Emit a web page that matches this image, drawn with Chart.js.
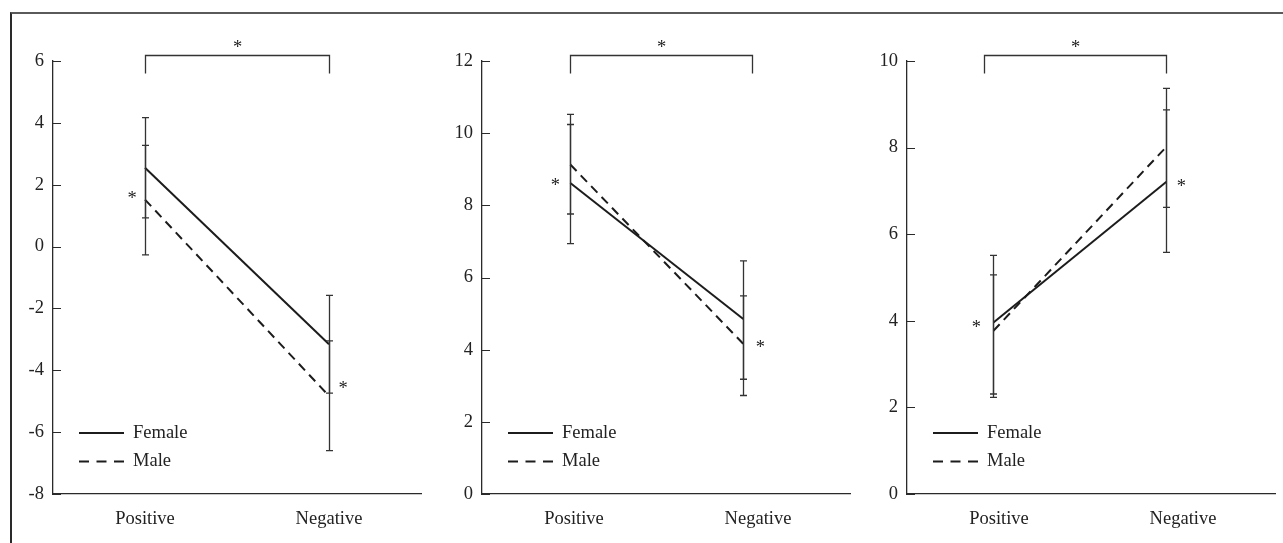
<!DOCTYPE html>
<html><head><meta charset="utf-8">
<script src="https://cdn.jsdelivr.net/npm/chart.js@4.4.0/dist/chart.umd.min.js"></script>
<style>
html,body{margin:0;padding:0;background:#fff;}
body{width:1283px;height:543px;position:relative;overflow:hidden;}
#frame{position:absolute;left:10px;top:12px;right:-5px;bottom:-5px;border-top:2px solid #5a5a5a;border-left:2px solid #2a2a2a;}
canvas{position:absolute;top:0;}
</style></head><body>
<div id="frame"></div>
<canvas id="c1" style="left:12px" width="419" height="543"></canvas>
<canvas id="c2" style="left:431px" width="430" height="543"></canvas>
<canvas id="c3" style="left:861px" width="422" height="543"></canvas>
<script>
// ---------- data ----------
const categories = ['Positive', 'Negative'];
const seriesNames = ['Female', 'Male'];

// Panel 1
const p1YRange = [-8, 6];
const p1X = [0, 1];
const p1Female = [2.55, -3.16];
const p1FemaleLow = [0.93, -4.74];
const p1FemaleHigh = [4.17, -1.58];
const p1Male = [1.52, -4.83];
const p1MaleLow = [-0.27, -6.60];
const p1MaleHigh = [3.27, -3.05];
const p1Bracket = [0, 1];
const p1StarY = [1.68, -4.45];

// Panel 2
const p2YRange = [0, 12];
const p2X = [-0.02, 0.92];
const p2Female = [8.62, 4.85];
const p2FemaleLow = [6.94, 3.18];
const p2FemaleHigh = [10.24, 6.46];
const p2Male = [9.13, 4.16];
const p2MaleLow = [7.76, 2.73];
const p2MaleHigh = [10.52, 5.49];
const p2Bracket = [-0.02, 0.97];
const p2StarY = [8.65, 4.16];

// Panel 3
const p3YRange = [0, 10];
const p3X = [-0.03, 0.91];
const p3Female = [3.96, 7.21];
const p3FemaleLow = [2.31, 5.58];
const p3FemaleHigh = [5.51, 8.87];
const p3Male = [3.77, 8.02];
const p3MaleLow = [2.23, 6.62];
const p3MaleHigh = [5.06, 9.37];
const p3Bracket = [-0.08, 0.91];
const p3StarY = [3.93, 7.2];

// ---------- style ----------
const FONT = "'Liberation Serif', 'Times New Roman', serif";
const FS = 18.5;
const INK = '#222';
const AXIS = '#2a2a2a';
Chart.defaults.font.family = FONT;
Chart.defaults.font.size = FS;
Chart.defaults.color = INK;

const decoPlugin = {
  id: 'deco',
  afterDraw(chart, args, o) {
    const ctx = chart.ctx, xs = chart.scales.x, ys = chart.scales.y, ca = chart.chartArea;
    ctx.save();
    // inward y ticks
    ctx.strokeStyle = AXIS; ctx.lineWidth = 1;
    ys.ticks.forEach(t => {
      const y = Math.round(ys.getPixelForValue(t.value)) + 0.5;
      ctx.beginPath(); ctx.moveTo(ca.left, y); ctx.lineTo(ca.left + 8, y); ctx.stroke();
    });
    // error bars
    ctx.strokeStyle = '#333'; ctx.lineWidth = 1.3;
    chart.data.datasets.forEach((ds, i) => {
      const meta = chart.getDatasetMeta(i);
      meta.data.forEach((pt, j) => {
        const x = Math.round(pt.x) + 0.5;
        const yl = ys.getPixelForValue(ds.errLow[j]);
        const yh = ys.getPixelForValue(ds.errHigh[j]);
        ctx.beginPath();
        ctx.moveTo(x, yl); ctx.lineTo(x, yh);
        ctx.moveTo(x - 3.5, yl); ctx.lineTo(x + 3.5, yl);
        ctx.moveTo(x - 3.5, yh); ctx.lineTo(x + 3.5, yh);
        ctx.stroke();
      });
    });
    // bracket
    const bx0 = Math.round(xs.getPixelForValue(o.bracket[0])) + 0.5;
    const bx1 = Math.round(xs.getPixelForValue(o.bracket[1])) + 0.5;
    const bTop = ca.top - 5.5, bLeg = ca.top + 12.5;
    ctx.strokeStyle = '#333'; ctx.lineWidth = 1.3;
    ctx.beginPath();
    ctx.moveTo(bx0, bLeg); ctx.lineTo(bx0, bTop); ctx.lineTo(bx1, bTop); ctx.lineTo(bx1, bLeg);
    ctx.stroke();
    // stars
    ctx.fillStyle = INK;
    ctx.font = FS + 'px ' + FONT;
    ctx.textAlign = 'center';
    ctx.textBaseline = 'alphabetic';
    const m = ctx.measureText('*');
    const starOff = (m.actualBoundingBoxAscent - m.actualBoundingBoxDescent) / 2;
    const drawStar = (x, y) => ctx.fillText('*', x, y + starOff);
    drawStar((bx0 + bx1) / 2, ca.top - 18);
    drawStar(xs.getPixelForValue(o.xpos[0]) - o.starDx[0], ys.getPixelForValue(o.starY[0]));
    drawStar(xs.getPixelForValue(o.xpos[1]) + o.starDx[1], ys.getPixelForValue(o.starY[1]));
    // legend
    ctx.textAlign = 'left'; ctx.textBaseline = 'middle';
    chart.data.datasets.forEach((ds, i) => {
      const y = ca.bottom - 61 + i * 28.5;
      ctx.strokeStyle = ds.borderColor; ctx.lineWidth = 2;
      ctx.setLineDash(ds.borderDash && ds.borderDash.length ? [10, 7.5] : []);
      ctx.beginPath(); ctx.moveTo(ca.left + 26, y); ctx.lineTo(ca.left + 71, y); ctx.stroke();
      ctx.setLineDash([]);
      ctx.fillText(ds.label, ca.left + 80, y);
    });
    ctx.restore();
  }
};

function makePanel(id, yRange, xpos, fem, femLo, femHi, mal, malLo, malHi, bracket, starY, yWidth, rightPad, starDx) {
  const pts = (vals) => vals.map((v, i) => ({x: xpos[i], y: v}));
  new Chart(document.getElementById(id), {
    type: 'line',
    data: {
      datasets: [
        {label: seriesNames[0], data: pts(fem), errLow: femLo, errHigh: femHi,
         borderColor: '#1c1c1c', borderWidth: 2, pointRadius: 0, tension: 0, borderDash: []},
        {label: seriesNames[1], data: pts(mal), errLow: malLo, errHigh: malHi,
         borderColor: '#1c1c1c', borderWidth: 2, pointRadius: 0, tension: 0, borderDash: [9, 6]}
      ]
    },
    options: {
      responsive: false,
      animation: false,
      layout: {padding: {top: 61, right: rightPad, bottom: 0, left: 0}},
      plugins: {
        legend: {display: false},
        tooltip: {enabled: false},
        deco: {bracket: bracket, starY: starY, xpos: xpos, starDx: starDx}
      },
      scales: {
        x: {
          type: 'linear', min: -0.5, max: 1.5,
          grid: {display: false, drawTicks: false},
          border: {display: true, color: AXIS, width: 1.3},
          afterBuildTicks: (s) => { s.ticks = categories.map((c, i) => ({value: i})); },
          ticks: {callback: (v) => categories[v], padding: 14, maxRotation: 0, autoSkip: false},
          afterFit: (s) => { s.height = 49; }
        },
        y: {
          min: yRange[0], max: yRange[1],
          grid: {display: false, drawTicks: false},
          border: {display: true, color: AXIS, width: 1.3},
          ticks: {stepSize: 2, padding: 9},
          afterFit: (s) => { s.width = yWidth; }
        }
      }
    },
    plugins: [decoPlugin]
  });
}

makePanel('c1', p1YRange, p1X, p1Female, p1FemaleLow, p1FemaleHigh, p1Male, p1MaleLow, p1MaleHigh, p1Bracket, p1StarY, 41, 10, [13, 14]);
makePanel('c2', p2YRange, p2X, p2Female, p2FemaleLow, p2FemaleHigh, p2Male, p2MaleLow, p2MaleHigh, p2Bracket, p2StarY, 51, 11, [15, 17]);
makePanel('c3', p3YRange, p3X, p3Female, p3FemaleLow, p3FemaleHigh, p3Male, p3MaleLow, p3MaleHigh, p3Bracket, p3StarY, 46, 8, [17, 15]);
</script>
</body></html>
